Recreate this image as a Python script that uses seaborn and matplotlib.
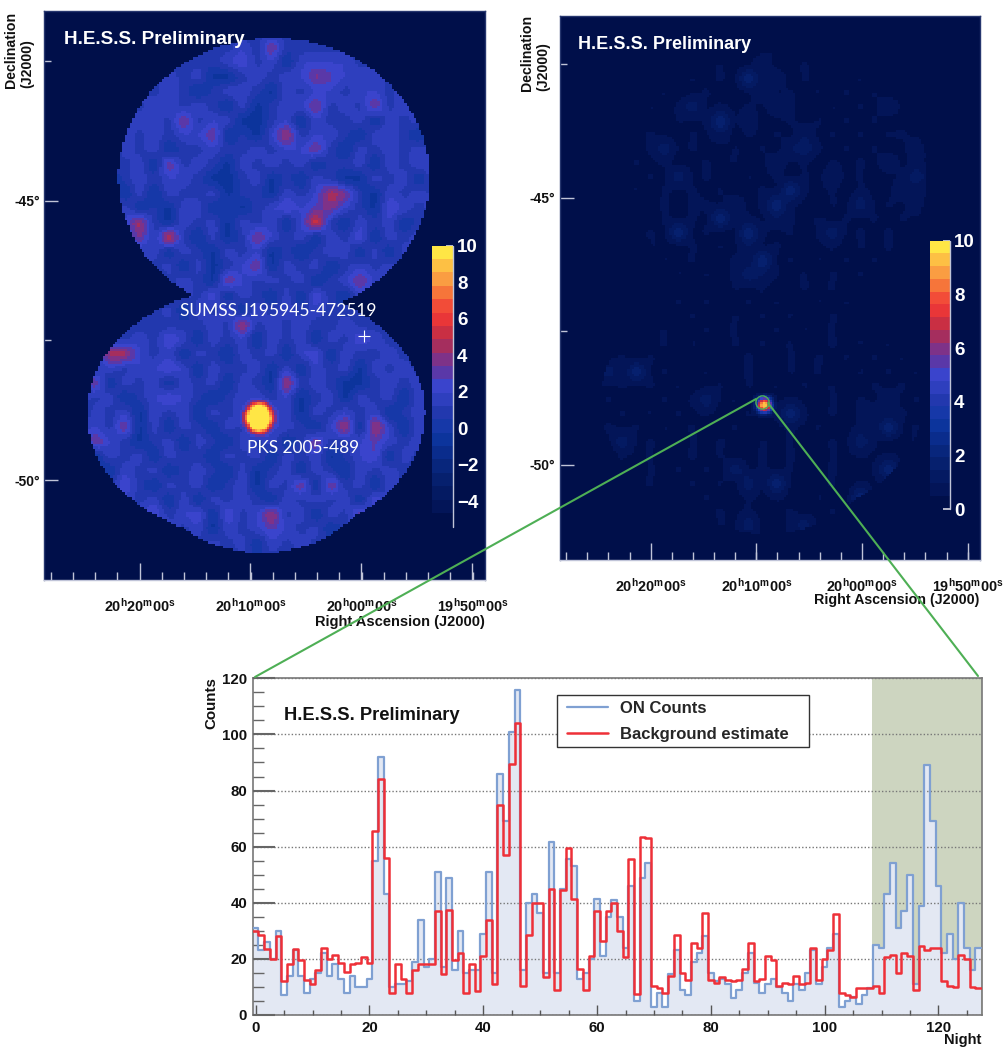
import numpy as np
import seaborn as sns
import matplotlib
matplotlib.use("Agg")
import matplotlib.pyplot as plt
from matplotlib.colors import ListedColormap
from matplotlib.lines import Line2D
from matplotlib.patches import Rectangle
from matplotlib.ticker import FixedLocator

on_counts = [31,23,26,20,30,7,14,23,14,8,13,15,22,14,18,13,8,14,10,10,13,55,92,43,10,11,11,12,19,34,17,20,51,17,49,16,30,15,16,16,
             29,51,15,86,69,101,116,16,40,43,36.5,15,61.5,15,45,55.5,53,13,15,20,41.5,21,35,41,35,24,46,5,49,54,3,8,3,14.5,23,9,7,19,22,28,
             15,12,13,11,6,9,15,22,11.5,8,11,13,10,8,5,11,9,15,23,11,17,24,29,3,5,6.5,4,7,9.5,25,24,43,54,31,37,50,11,39,89,69,46,22,29,20,40,24,16,24]
bg_counts = [30,28.5,23.5,20,28,12,18,23.5,19.5,12.5,11,16,24,20,21.5,18.5,15.5,18,18.5,20.5,18.5,65.5,84,56,8,18,13,8,16,18,18,18,37,14.5,37.5,19.5,22,8,18,8.7,
             21,34,11,75,57,89.5,104,10.5,28.5,40,40,13.5,45,9,44.5,59.5,41.5,16.5,9,21,37,26.5,37,40,30,20.5,55.5,7.5,63.5,63,10.5,9.5,8,14,28.5,15,12.5,25.5,24,36.5,
             12.5,11.5,13.5,12.5,12,12.5,16.5,25.5,12,13,21,19.5,10.5,11.5,11,14,11,11.5,24,12.5,20,23,36,8,7,6.5,9.5,9.5,9.5,10.5,8,20.5,21.5,15,22,21,9,24.5,23,24,24,12,10.5,10,21.5,20,10,9.5]
nights = list(range(128))
shaded_from = 108.4

# significance map, one digit per coarse cell, digit = index into sig_levels
sig_levels = [-1.5, -.7, .8, 1.9, 2.9, 3.9, 5, 6.2]
sig_rows = [
 "222222222222222222222222222222","222222222222222222222222222222",
 "222222222222232522222222222222","222222222222342313333222222222",
 "222222223231123233543332222222","222222323212332132332332322222",
 "222223233232131233523252322222","222232332523311231322313232222",
 "222223232335121362332133213222","222313231223223233521323232222",
 "223232315232132323122313233222","223212323321123121321132313222",
 "223231313223122132365213232222","222323121331212343453214323222",
 "222323621323132313721323122222","222232527213125323132413232222",
 "222223231321323121233131322222","222232323131235132312323222222",
 "222222312321532323123532322222","222222231324132131421322222222",
 "222222223132313232322222222222","222222222223262323223222222222",
 "222222324313231323132432222222","222266323132132313413223222222",
 "223232334313223131323132322222","232513231323132162321123232222",
 "233231234321233231231323132222","231323132313232331323231232222",
 "223325131321325332136163132222","232532123132132312522343232222",
 "223132313221323132312341322222","223213231232131231321323222222",
 "222324213231231325152313222222","222223231313232132323142222222",
 "222222342341423623132522222222","222222223231323432312222222222",
 "222222222223231323222222222222","222222222222222222222222222222",
 "222222222222222222222222222222"]

# excess map, one digit per coarse cell, digit = index into exc_levels
exc_levels = [.3, .4, .55, .95, 1.5, 2.2]
exc_rows = [
 "000000000000000000000000000000","000000000000000000000000000000",
 "000000000000001201000000000000","000000000012013012101000000000",
 "000000001212151302121201000000","000000120121013121202120100000",
 "000001212412121321021213100000","000012102125130121212120120000",
 "000021210213021213120212210000","000121241210212034212120130000",
 "001212120121201312021213121000","002101214121021202131201242000",
 "001212021212012152120211321200","002120121221312521021412132100",
 "001212021215121321202121212100","000121215120152120241212121000",
 "000021210212131212120212120000","000002121201215120212121210000",
 "000001202121243212021212100000","000000121210212012120121000000",
 "000000012121021210212100000000","000000001210212121021000000000",
 "000000120121201202120100000000","000012120210212120121212000000",
 "000120212102121021212021200000","001415120120121021201212120000",
 "012121212012021202120121212000","021210121241202121021213121000",
 "012121202120121252121231210000","021212021201210121201215120000",
 "021241210212102120121420121000","002121201212012121021212120000",
 "001210212120412120121025120000","000121201212041502120212100000",
 "000012120121021210210510000000","000001212012120120121200000000",
 "000000121202140124012100000000","000000001210212021200000000000",
 "000000000000000000000000000000"]

# bright source, on cells four times finer than the coarse grid
src_left = [[0,0,4,6,7,6,4,0,0],[0,4,8,11,11,11,8,4,0],[3,7,11,12,12,12,11,7,3],[5,9,12,12,12,12,12,9,5],
            [6,10,12,12,12,12,12,10,6],[5,9,12,12,12,12,12,9,5],[3,7,11,12,12,12,11,7,3],[0,4,8,11,11,11,8,4,0],[0,0,4,6,7,6,4,0,0]]
src_right = [[2,4,6,4,2],[4,8,9.5,8,4],[6,9.5,10,9.5,6],[4,8,9.5,8,4],[2,4,6,4,2]]

band_colors = ["#031558","#041A62","#06206E","#08267C","#0A2C8C","#0C349C","#1638A8","#2238AE","#2E3FBE","#3A44CC",
               "#5A38A8","#7E3288","#A52E5E","#C92F43","#E93638","#F24C38","#F6753A","#FA9D42","#FDC044","#FFE645"]
NAVY = "#000F4A"
LIGHT = "#C0C4D8"
ra_labels = [r"$\mathbf{20^{h}20^{m}00^{s}}$", r"$\mathbf{20^{h}10^{m}00^{s}}$", r"$\mathbf{20^{h}00^{m}00^{s}}$", r"$\mathbf{19^{h}50^{m}00^{s}}$"]
dec_labels = ["-45°", "-50°"]

W, H = 1004, 1053
sns.set_theme(style="white")
plt.rcParams["font.family"] = ["Liberation Sans", "DejaVu Sans"]
plt.rcParams["font.weight"] = "bold"
plt.rcParams["mathtext.fontset"] = "custom"
plt.rcParams["mathtext.bf"] = "Liberation Sans:bold"
plt.rcParams["mathtext.rm"] = "Liberation Sans:bold"
plt.rcParams["axes.unicode_minus"] = True

fig = plt.figure(figsize=(W / 100, H / 100), dpi=100, facecolor="white")

def rect(l, t, r, b):
    return [l / W, 1 - b / H, (r - l) / W, (b - t) / H]

def ptext(x, y, s, **kw):
    kw.setdefault("va", "center")
    return fig.text(x / W, 1 - y / H, s, **kw)

def pline(xs, ys, **kw):
    fig.add_artist(Line2D([x / W for x in xs], [1 - y / H for y in ys], transform=fig.transFigure, **kw))

def decode(rows, levels):
    return np.array([[levels[int(c)] for c in r] for r in rows], float)

def resample(a, rn, cn):
    xs = (np.arange(cn) + .5) / cn * a.shape[1] - .5
    ys = (np.arange(rn) + .5) / rn * a.shape[0] - .5
    t = np.array([np.interp(xs, np.arange(a.shape[1]), row) for row in a])
    return np.array([np.interp(ys, np.arange(a.shape[0]), col) for col in t.T]).T

def refine(a, src, src_xy, box):
    l, t, r, b = box
    g = resample(a, a.shape[0] * 4, a.shape[1] * 4)
    sa = np.array(src, float)
    i0 = int(round((src_xy[1] - t) / (b - t) * g.shape[0])) - sa.shape[0] // 2
    j0 = int(round((src_xy[0] - l) / (r - l) * g.shape[1])) - sa.shape[1] // 2
    g[i0:i0 + sa.shape[0], j0:j0 + sa.shape[1]] = np.maximum(g[i0:i0 + sa.shape[0], j0:j0 + sa.shape[1]], sa)
    g = resample(g, a.shape[0] * 6, a.shape[1] * 6)
    k = np.array([1, 2, 1]) / 4
    g = np.apply_along_axis(lambda v: np.convolve(v, k, mode="same"), 0, g)
    g = np.apply_along_axis(lambda v: np.convolve(v, k, mode="same"), 1, g)
    return g

def footprint(shape):
    r, c = shape
    x = 44 + (np.arange(c) + .5) / c * 441
    y = 11 + (np.arange(r) + .5) / r * 569
    X, Y = np.meshgrid(x, y)
    inside = ((X - 274) / 155.5) ** 2 + ((Y - 177) / 139) ** 2 <= 1
    inside |= ((X - 256) / 169) ** 2 + ((Y - 413) / 127) ** 2 <= 1
    inside |= ((X - 262) / 120) ** 2 + ((Y - 450) / 103) ** 2 <= 1
    return ~inside

def sky_map(box, grid, vmin, low, cbox, cticks, xmaj, xstep, ymaj, ymin):
    l, t, r, b = box
    ax = fig.add_axes(rect(l, t, r, b), facecolor=NAVY)
    cax = fig.add_axes(rect(*cbox), facecolor=NAVY)
    cm = ListedColormap(band_colors)
    cm.set_under(NAVY)
    ny, nx = grid.shape
    px, py = (r - l) / nx, (b - t) / ny
    sns.heatmap(grid, mask=footprint(grid.shape), cmap=cm, vmin=vmin, vmax=10, ax=ax, cbar_ax=cax,
                xticklabels=False, yticklabels=False, linewidths=0, rasterized=True)
    cb = ax.collections[0].colorbar
    cb.outline.set_visible(False)
    cb.set_ticks(cticks)
    cb.ax.set_ylim(low, 10)
    cb.ax.tick_params(axis="y", direction="in", length=5, width=1.1, color="#E8E8F0", labelcolor="white",
                      labelsize=13.5, pad=3, right=True)
    cb.ax.minorticks_off()
    for lab in cb.ax.get_yticklabels():
        lab.set_fontweight("bold")
    pline([cbox[2], cbox[2]], [cbox[1], cbox[3]], color=LIGHT, lw=1.0, zorder=4)

    majx = [(x - l) / px for x in xmaj]
    minx = [(xmaj[0] + k * xstep - l) / px for k in range(-5, 20)]
    minx = [v for v in minx if 0 < v < nx]
    ax.xaxis.set_major_locator(FixedLocator(majx))
    ax.xaxis.set_minor_locator(FixedLocator(minx))
    ax.set_xticklabels(ra_labels, fontsize=10.4, color="#111111")
    ax.tick_params(axis="x", which="major", bottom=True, direction="in", length=12, width=1, color=LIGHT, pad=12.2)
    ax.tick_params(axis="x", which="minor", bottom=True, direction="in", length=6, width=1, color=LIGHT)
    ax.yaxis.set_major_locator(FixedLocator([(y - t) / py for y in ymaj]))
    ax.yaxis.set_minor_locator(FixedLocator([(y - t) / py for y in ymin]))
    ax.set_yticklabels(dec_labels, fontsize=10, color="#111111")
    ax.tick_params(axis="y", which="major", left=True, direction="in", length=10, width=1, color=LIGHT, pad=3)
    ax.tick_params(axis="y", which="minor", left=True, direction="in", length=5, width=1, color=LIGHT)
    for name, sp in ax.spines.items():
        sp.set_visible(True)
        sp.set_color(LIGHT if name == "bottom" else "#26366E")
        sp.set_linewidth(1)
    return ax

box_l = (44, 11, 485, 580)
box_r = (559.7, 16, 979.7, 560)
sky_map(box_l, refine(decode(sig_rows, sig_levels), src_left, (257, 415), box_l), -4.63, -5.4,
        (432, 245.7, 453, 527), [-4, -2, 0, 2, 4, 6, 8, 10],
        [139.7, 250.3, 361.3, 472.3], 22.2, [200.7, 480.3], [61, 340.3])
sky_map(box_r, refine(decode(exc_rows, exc_levels), src_right, (761.7, 401.7), box_r), .5, 0,
        (929.7, 240.7, 950, 509), [0, 2, 4, 6, 8, 10],
        [650.7, 756.3, 862, 967.7], 21.13, [197.7, 464.7], [64.3, 331])

ptext(64.3, 39.5, "H.E.S.S. Preliminary", color="white", fontsize=13.6, fontweight="bold", zorder=5)
ptext(578, 44.5, "H.E.S.S. Preliminary", color="white", fontsize=13, fontweight="bold", zorder=5)
ptext(180, 311, "SUMSS J195945-472519", color="white", fontsize=12.55, fontweight="normal", family=["Lato"], zorder=5)
ptext(247, 448, "PKS 2005-489", color="white", fontsize=12.4, fontweight="normal", family=["Lato"], zorder=5)

for x, y1 in [(11, 88), (27, 88), (527, 91), (543, 91)]:
    s = "Declination" if x in (11, 527) else "(J2000)"
    ptext(x, y1, s, rotation=90, ha="center", va="bottom", fontsize=10.2, color="#111111", fontweight="bold")
ptext(484.5, 622, "Right Ascension (J2000)", ha="right", fontsize=10.5, color="#111111", fontweight="bold")
ptext(979, 600, "Right Ascension (J2000)", ha="right", fontsize=10.3, color="#111111", fontweight="bold")
pline([363.7], [335.7], marker="+", ms=9, mew=0.8, color="white", ls="none", zorder=5)

# light curve panel
ax3 = fig.add_axes(rect(252.8, 678.3, 981.7, 1015))
edges = [n - .5 for n in range(129)]
ax3.axvspan(shaded_from, 127.6, color="#CDD5C0", lw=0, zorder=0)
sns.histplot(x=nights, weights=on_counts, bins=edges, element="step", fill=True, alpha=1, color="#E3E8F3",
             linewidth=0, ax=ax3, zorder=1)
sns.histplot(x=nights, weights=on_counts, bins=edges, element="step", fill=False, color="#7FA0D2",
             linewidth=1.6, ax=ax3, zorder=3)
sns.histplot(x=nights, weights=bg_counts, bins=edges, element="step", fill=False, color="#EE3038",
             linewidth=1.8, ax=ax3, zorder=4)
ax3.set_xlim(-.5, 127.6)
ax3.set_ylim(0, 120)
ax3.set_xlabel("")
ax3.set_ylabel("")
ax3.xaxis.set_major_locator(FixedLocator(list(range(0, 121, 20))))
ax3.xaxis.set_minor_locator(FixedLocator(list(range(0, 128, 5))))
ax3.yaxis.set_major_locator(FixedLocator(list(range(0, 121, 20))))
ax3.yaxis.set_minor_locator(FixedLocator(list(range(0, 121, 5))))
ax3.tick_params(axis="x", which="major", bottom=True, direction="in", length=7.2, width=1, color="#555555",
                labelsize=10.8, pad=4, labelcolor="#111111")
ax3.tick_params(axis="x", which="minor", bottom=True, direction="in", length=3.6, width=1, color="#555555")
ax3.tick_params(axis="y", which="major", left=True, direction="in", length=16, width=1.5, color="#666666",
                labelsize=10.8, pad=4, labelcolor="#111111")
ax3.tick_params(axis="y", which="minor", left=True, direction="in", length=8, width=1, color="#666666")
for lab in ax3.get_xticklabels() + ax3.get_yticklabels():
    lab.set_fontweight("bold")
ax3.set_axisbelow(False)
ax3.grid(axis="y", which="major", ls=(0, (1, 1.5)), lw=1, color="#777777", zorder=2)
for sp in ax3.spines.values():
    sp.set_color("#777777")
    sp.set_linewidth(1.2)

def panel_frac(x, y):
    return (x - 252.8) / 728.9, 1 - (y - 678.3) / 336.7

lx, ly = panel_frac(557.3, 746.7)
rx, ry = panel_frac(809, 695.3)
ax3.add_patch(Rectangle((lx, ly), rx - lx, ry - ly, transform=ax3.transAxes, facecolor="white",
                        edgecolor="#333333", lw=1, zorder=5))
leg = ax3.legend(handles=[Line2D([], [], color="#7FA0D2", lw=1.6, label="ON Counts"),
                          Line2D([], [], color="#EE3038", lw=1.8, label="Background estimate")],
                 loc="upper left", bbox_to_anchor=panel_frac(566.7, 701),
                 borderaxespad=0, frameon=False, borderpad=0,
                 prop={"weight": "bold", "size": 12}, handlelength=2.5, handletextpad=.7, labelspacing=.68)
leg.set_zorder(6)
ptext(284, 715.5, "H.E.S.S. Preliminary", color="#111111", fontsize=13.2, fontweight="bold", zorder=5)
ptext(211, 703.5, "Counts", rotation=90, ha="center", color="#111111", fontsize=10.9, fontweight="bold")
ptext(981, 1040, "Night", ha="right", color="#111111", fontsize=10.6, fontweight="bold")

# connectors from the source to the panel corners
pline([756, 255], [399, 677], color="#4EAF55", lw=1.5, zorder=6)
pline([768, 978], [403, 676], color="#4EAF55", lw=1.5, zorder=6)
pline([761.7], [401.7], marker="o", ms=9.5, mew=1, mfc="none", mec="#4EAF55", ls="none", zorder=6)

fig.savefig("out.png", dpi=100, facecolor="white")
